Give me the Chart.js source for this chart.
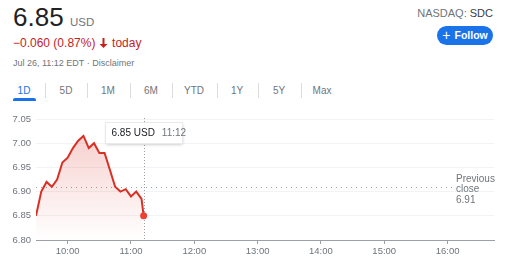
<!DOCTYPE html>
<html>
<head>
<meta charset="utf-8">
<script src="https://cdn.jsdelivr.net/npm/chart.js@4"></script>
<style>
  html, body { margin: 0; padding: 0; background: #fff; }
  body { width: 520px; height: 272px; position: relative; overflow: hidden;
         font-family: "Liberation Sans", Arial, sans-serif; }
  .abs { position: absolute; white-space: nowrap; line-height: 1; }
  #price { left: 13px; top: 4px; font-size: 26px; color: #202124; }
  #cur { left: 70px; top: 16.5px; font-size: 11.5px; color: #70757a; }
  #chg { left: 13px; top: 36.5px; font-size: 12px; color: #c5221f; }
  #chg svg { vertical-align: -1px; margin: 0 1px 0 0; }
  #date { left: 13px; top: 58.5px; font-size: 9px; color: #70757a; }
  #ticker { right: 27px; top: 8px; font-size: 11px; color: #70757a; }
  #ticker b { font-weight: normal; color: #3c4043; }
  #follow { left: 437px; top: 26px; width: 56px; height: 19px; border-radius: 10px;
            background: #1a73e8; color: #fff; font-size: 10.5px; font-weight: bold;
            display: flex; align-items: center; justify-content: center; }
  #follow span.plus { font-size: 14px; font-weight: normal; margin-right: 4px; margin-top: -1px; }
  .tab { position: absolute; top: 86px; font-size: 10px; color: #70757a; line-height: 1;
         transform: translateX(-50%); white-space: nowrap; }
  .tab.on { color: #1a73e8; }
  .sep { position: absolute; top: 83px; width: 1px; height: 15px; background: #dadce0; }
  #uline { position: absolute; left: 13px; top: 97.5px; width: 23px; height: 3px;
           background: #1a73e8; border-radius: 2px 2px 0 0; }
  #wrap { position: absolute; left: 0; top: 105px; width: 520px; height: 167px; }
</style>
</head>
<body>
<div class="abs" id="price">6.85</div>
<div class="abs" id="cur">USD</div>
<div class="abs" id="chg">−0.060 (0.87%) <svg width="9" height="10" viewBox="0 0 9 10"><path d="M3.5 0h2v6h3L4.5 10 0.5 6h3z" fill="#c5221f"/></svg> today</div>
<div class="abs" id="date">Jul 26, 11:12 EDT · Disclaimer</div>
<div class="abs" id="ticker">NASDAQ: <b>SDC</b></div>
<div class="abs" id="follow"><span class="plus">+</span>Follow</div>
<div id="tabs"></div>
<div id="uline"></div>
<div id="wrap"><canvas id="c"></canvas></div>

<script>
// Intraday quotes, 5-minute steps, last print at 11:12
const times = ['9:30','9:35','9:40','9:45','9:50','9:55','10:00','10:05','10:10','10:15','10:20',
               '10:25','10:30','10:35','10:40','10:45','10:50','10:55','11:00','11:05','11:10','11:12'];
const prices = [6.85, 6.90, 6.92, 6.91, 6.925, 6.96, 6.97, 6.99, 7.005, 7.015, 6.99,
                7.00, 6.98, 6.98, 6.945, 6.91, 6.90, 6.905, 6.89, 6.90, 6.885, 6.85];
const prevClose = 6.91;
const sessionStart = '9:30';
const sessionEnd = '16:44';
const xTickLabels = ['10:00','11:00','12:00','13:00','14:00','15:00','16:00'];
const yTickValues = [6.80, 6.85, 6.90, 6.95, 7.00, 7.05];
const rangeTabs = ['1D','5D','1M','6M','YTD','1Y','5Y','Max'];
const currency = 'USD';

// range selector row
const tabX = [24, 66, 108, 151, 194, 237, 279, 322];
const sepX = [45, 87, 130, 172, 217, 258, 301];
const tabsEl = document.getElementById('tabs');
rangeTabs.forEach((t, i) => {
  const s = document.createElement('span');
  s.className = 'tab' + (i === 0 ? ' on' : '');
  s.style.left = tabX[i] + 'px';
  s.textContent = t;
  tabsEl.appendChild(s);
});
sepX.forEach(x => {
  const d = document.createElement('div');
  d.className = 'sep';
  d.style.left = x + 'px';
  tabsEl.appendChild(d);
});

const toMin = t => { const [h, m] = t.split(':').map(Number); return h * 60 + m; };
const fmtMin = v => Math.floor(v / 60) + ':' + String(v % 60).padStart(2, '0');

const FONT = '"Liberation Sans", Arial, sans-serif';
const GREY = '#70757a';
const AXIS = '#9aa0a6';
const RED = '#d93025';

const points = times.map((t, i) => ({ x: toMin(t), y: prices[i] }));
const last = points.length - 1;

const overlay = {
  id: 'overlay',
  beforeDatasetsDraw(chart) {
    const { ctx, chartArea, scales } = chart;
    const px = scales.x.getPixelForValue(points[last].x);
    ctx.save();
    ctx.strokeStyle = AXIS;
    ctx.lineWidth = 1;
    ctx.setLineDash([1, 2]);
    ctx.beginPath();
    ctx.moveTo(Math.round(px) + 0.5, chartArea.top - 1);
    ctx.lineTo(Math.round(px) + 0.5, chartArea.bottom);
    ctx.stroke();

    // previous close reference line
    const py = Math.round(scales.y.getPixelForValue(prevClose)) + 0.5;
    const endX = chartArea.right - 42;
    ctx.setLineDash([1, 4]);
    ctx.beginPath();
    ctx.moveTo(chartArea.left, py);
    ctx.lineTo(endX, py);
    ctx.stroke();
    ctx.setLineDash([]);
    ctx.fillStyle = GREY;
    ctx.font = '10px ' + FONT;
    ctx.textBaseline = 'alphabetic';
    ctx.textAlign = 'left';
    ctx.fillText('Previous', endX + 4, py - 5.5);
    ctx.fillText('close', endX + 4, py + 4.5);
    ctx.fillText(prevClose.toFixed(2), endX + 4, py + 15);
    ctx.restore();
  },
  afterDatasetsDraw(chart) {
    const { ctx, chartArea, scales } = chart;
    const px = scales.x.getPixelForValue(points[last].x);
    const w = 77, h = 21;
    const bx = Math.round(px - w / 2) + 0.5, by = chartArea.top + 3.5;
    ctx.save();
    ctx.shadowColor = 'rgba(0,0,0,0.25)';
    ctx.shadowBlur = 3;
    ctx.shadowOffsetY = 1;
    ctx.fillStyle = '#fff';
    ctx.fillRect(bx, by, w, h);
    ctx.shadowColor = 'transparent';
    ctx.strokeStyle = '#e8eaed';
    ctx.lineWidth = 1;
    ctx.strokeRect(bx, by, w, h);
    ctx.font = '10px ' + FONT;
    ctx.textBaseline = 'middle';
    ctx.textAlign = 'left';
    const label = points[last].y.toFixed(2) + ' ' + currency;
    ctx.fillStyle = '#202124';
    ctx.fillText(label, bx + 6, by + h / 2 + 0.5);
    ctx.fillStyle = GREY;
    ctx.fillText(fmtMin(points[last].x), bx + 6 + ctx.measureText(label).width + 7, by + h / 2 + 0.5);
    ctx.restore();
  }
};

new Chart(document.getElementById('c'), {
  type: 'line',
  data: {
    datasets: [{
      data: points,
      borderColor: RED,
      borderWidth: 2,
      tension: 0,
      fill: 'start',
      backgroundColor(context) {
        const { chart } = context;
        const area = chart.chartArea;
        if (!area) return 'rgba(217,48,37,0.15)';
        const top = chart.scales.y.getPixelForValue(Math.max(...prices));
        const g = chart.ctx.createLinearGradient(0, top, 0, area.bottom);
        g.addColorStop(0, 'rgba(217,48,37,0.22)');
        g.addColorStop(1, 'rgba(217,48,37,0.0)');
        return g;
      },
      pointRadius: points.map((p, i) => i === last ? 3.5 : 0),
      pointBackgroundColor: '#ea4335',
      pointBorderColor: '#ea4335',
      pointBorderWidth: 0,
      pointHoverRadius: 0
    }]
  },
  options: {
    responsive: true,
    maintainAspectRatio: false,
    animation: false,
    events: [],
    layout: { padding: { top: 14, right: 26, left: 0, bottom: 0 } },
    plugins: { legend: { display: false }, tooltip: { enabled: false } },
    scales: {
      x: {
        type: 'linear',
        min: toMin(sessionStart),
        max: toMin(sessionEnd),
        afterBuildTicks: s => { s.ticks = xTickLabels.map(t => ({ value: toMin(t) })); },
        afterFit: s => { s.height = 32; },
        ticks: { callback: v => fmtMin(v), color: GREY, font: { family: FONT, size: 9.5 },
                 padding: 2, maxRotation: 0, autoSkip: false },
        grid: { drawOnChartArea: false, drawTicks: true, tickLength: 4, color: AXIS },
        border: { display: true, color: AXIS, width: 1 }
      },
      y: {
        min: yTickValues[0],
        max: yTickValues[yTickValues.length - 1],
        afterBuildTicks: s => { s.ticks = yTickValues.map(v => ({ value: v })); },
        afterFit: s => { s.width = 36; },
        ticks: { callback: v => v.toFixed(2), color: GREY, font: { family: FONT, size: 9.5 }, padding: 5 },
        grid: { drawTicks: false, color: ctx => ctx.tick && ctx.tick.value === yTickValues[0] ? 'rgba(0,0,0,0)' : '#f1f3f4' },
        border: { display: false }
      }
    }
  },
  plugins: [overlay]
});
</script>
</body>
</html>
